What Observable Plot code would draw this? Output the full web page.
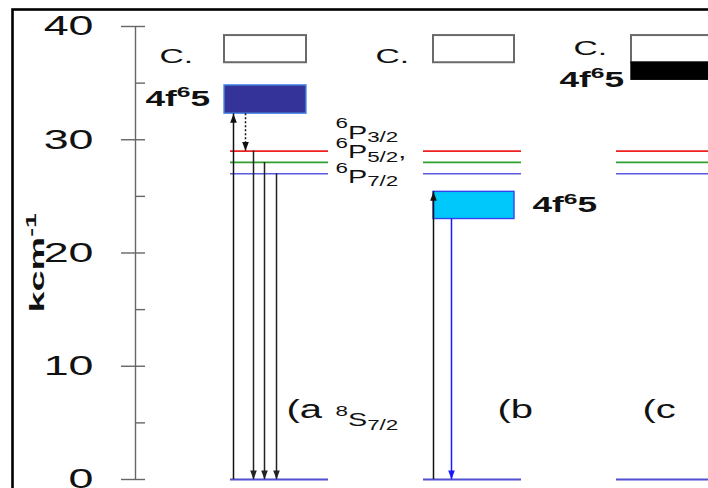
<!DOCTYPE html>
<html><head><meta charset="utf-8">
<script src="https://cdn.jsdelivr.net/npm/d3@7"></script>
<script src="https://cdn.jsdelivr.net/npm/@observablehq/plot@0.6"></script>
<style>html,body{margin:0;padding:0;overflow:hidden;background:#fff;width:708px;height:488px}</style>
</head><body><div id="chart"></div>
<script>
// ---------------- data (energies in kcm-1) ----------------
const yMajorTicks = [0, 10, 20, 30, 40];
const yMinorTicks = [5, 15, 25, 35];
const yTickLabels = ["0", "10", "20", "30", "40"];
const yTitle = "kcm^-1^";
const panelLabels = ["(a", "(b", "(c"];
const levelLabels = ["^6^P_3/2_", "^6^P_5/2_,", "^6^P_7/2_"];
const levelEnergies = [29.0, 28.0, 27.0];
const groundLabel = "^8^S_7/2_";
const groundEnergy = 0;
const cbLabel = "C.";
const cbBottom = [36.8, 36.8, 36.8];
const cbTop = [39.2, 39.2, 39.2];
const f5dLabel = "4f^6^5";
const f5dBottom = [32.3, 23.0, 35.3];
const f5dTop = [34.8, 25.4, 36.8];

// ---------------- layout (horizontal positions, label anchors) ----------------
const axisX = 135, tickLabelX = 93;
const boxX1 = [224, 433, 631], boxX2 = [306, 514, 716];
const lineX1 = [230, 423, 616], lineX2 = [328, 521, 716];
const cbLabelX = [159, 375, 573], cbLabelE = [36.82, 36.82, 37.44];
const f5dLabelX = [145, 532, 559], f5dLabelE = [33.0, 23.6, 34.7];
const levelLabelX = 335, levelLabelE = [30.1, 28.35, 26.15];
const groundLabelX = 335, groundLabelE = 4.68;
const panelLabelX = [286, 497, 642], panelLabelE = 5.47;
const yTitleX = 43, yTitleE = 14.75;

// transitions
const transitions = [
  {x: 233, from: groundEnergy, to: f5dBottom[0], kind: "abs"},
  {x: 245, from: f5dBottom[0], to: levelEnergies[0], kind: "relax"},
  {x: 253, from: levelEnergies[0], to: groundEnergy, kind: "em"},
  {x: 264, from: levelEnergies[1], to: groundEnergy, kind: "em"},
  {x: 276, from: levelEnergies[2], to: groundEnergy, kind: "em"},
  {x: 433, from: groundEnergy, to: f5dTop[1], kind: "abs"},
  {x: 451, from: f5dBottom[1], to: groundEnergy, kind: "emb"}
];

// ---------------- styles ----------------
const levelColors = ["#ee2020", "#2fa02f", "#5a5ae0"];
const groundColor = "#5050d0";
const f5dFill = ["#333399", "#00c8fa", "#000000"];
const f5dStroke = ["#4a8ae6", "#3344ee", "#000000"];
const kindStroke = {abs: "#111", relax: "#111", em: "#222", emb: "#1a1aff"};
const kindDash = {relax: "2,2"};

const headDown = {draw(ctx) { ctx.moveTo(0, 0); ctx.lineTo(-3.3, -9); ctx.lineTo(3.3, -9); ctx.closePath(); }};
const headUp = {draw(ctx) { ctx.moveTo(0, 0); ctx.lineTo(-3.3, 9); ctx.lineTo(3.3, 9); ctx.closePath(); }};

const panels = d3.range(3);
const levelRows = panels.flatMap(p => levelEnergies.map((e, i) => ({p, i, e})));

const marks = [
  Plot.frame({stroke: "#000", strokeWidth: 2.6, insetLeft: 12, insetTop: -17, insetRight: -30, insetBottom: -30}),
  Plot.ruleX([axisX], {y1: 0, y2: 40, stroke: "#666", strokeWidth: 1.4}),
  Plot.ruleY(yMajorTicks, {x1: axisX - 14, x2: axisX + 10, stroke: "#666", strokeWidth: 1.4}),
  Plot.ruleY(yMinorTicks, {x1: axisX, x2: axisX + 10, stroke: "#666", strokeWidth: 1.4}),
  ...levelEnergies.map((e, i) => Plot.ruleY(levelRows.filter(r => r.i === i),
      {y: "e", x1: r => lineX1[r.p], x2: r => lineX2[r.p], stroke: levelColors[i], strokeWidth: 1.6})),
  Plot.ruleY(panels, {y: () => groundEnergy, x1: p => lineX1[p], x2: p => lineX2[p], stroke: groundColor, strokeWidth: 1.8}),
  Plot.rect(panels, {x1: p => boxX1[p], x2: p => boxX2[p], y1: p => cbBottom[p], y2: p => cbTop[p], fill: "white", stroke: "#6a6a6a", strokeWidth: 2}),
  ...panels.map(p => Plot.rect([p], {x1: boxX1[p], x2: boxX2[p], y1: f5dBottom[p], y2: f5dTop[p], fill: f5dFill[p], stroke: f5dStroke[p], strokeWidth: 1.4})),
  ...Object.keys(kindStroke).map(k => Plot.ruleX(transitions.filter(t => t.kind === k),
      {x: "x", y1: "from", y2: "to", stroke: kindStroke[k], strokeWidth: 1.5, strokeDasharray: kindDash[k]})),
  ...Object.keys(kindStroke).map(k => Plot.dot(transitions.filter(t => t.kind === k && t.to < t.from),
      {x: "x", y: "to", symbol: headDown, fill: kindStroke[k], stroke: "none", r: 4})),
  ...Object.keys(kindStroke).map(k => Plot.dot(transitions.filter(t => t.kind === k && t.to > t.from),
      {x: "x", y: "to", symbol: headUp, fill: kindStroke[k], stroke: "none", r: 4})),
  // texts
  Plot.text(yMajorTicks, {x: tickLabelX, y: d => d, text: (d, i) => yTickLabels[i], textAnchor: "end", fontSize: 28, fill: "#111"}),
  Plot.text(panels, {x: p => cbLabelX[p], y: p => cbLabelE[p], text: () => cbLabel, textAnchor: "start", lineAnchor: "bottom", fontSize: 21, fill: "#111"}),
  Plot.text(panels, {x: p => f5dLabelX[p], y: p => f5dLabelE[p], text: () => f5dLabel, textAnchor: "start", lineAnchor: "bottom", fontSize: 22, fontWeight: "bold", fill: "#111"}),
  Plot.text(levelLabels, {x: levelLabelX, y: (d, i) => levelLabelE[i], text: d => d, textAnchor: "start", lineAnchor: "bottom", fontSize: 18, fill: "#111"}),
  Plot.text([groundLabel], {x: groundLabelX, y: groundLabelE, text: d => d, textAnchor: "start", lineAnchor: "bottom", fontSize: 18, fill: "#111"}),
  Plot.text(panelLabels, {x: (d, i) => panelLabelX[i], y: panelLabelE, text: d => d, textAnchor: "start", lineAnchor: "bottom", fontSize: 25, fill: "#111"}),
  Plot.text([yTitle], {x: yTitleX, y: yTitleE, text: d => d, rotate: -90, textAnchor: "start", lineAnchor: "bottom", fontSize: 21, fontWeight: "bold", fill: "#111"})
];

const svg = Plot.plot({
  width: 708, height: 488,
  marginLeft: 0, marginRight: 0, marginTop: 26, marginBottom: 9,
  x: {domain: [0, 708], axis: null},
  y: {domain: [0, 40], axis: null},
  style: {fontFamily: "'Liberation Sans', Arial, sans-serif", background: "white", overflow: "hidden"},
  marks
});
document.getElementById("chart").appendChild(svg);

// rich text (super/subscripts) and the horizontal stretch of the original lettering
const NS = "http://www.w3.org/2000/svg";
svg.querySelectorAll("text").forEach(t => {
  const tr = t.getAttribute("transform") || "";
  const rotated = tr.includes("rotate");
  t.setAttribute("transform", tr + (rotated ? " scale(1.8,1)" : " scale(1.6,1)"));
  const s = t.textContent;
  if (!/[\^_]/.test(s)) return;
  const fs = parseFloat(getComputedStyle(t).fontSize) || 18;
  const term = s.startsWith("^");
  const ratio = term ? 0.78 : 0.7;
  const up = term ? 0.6 : 0.38, down = 0.17;
  t.textContent = "";
  let off = 0;
  for (const m of s.matchAll(/\^([^^]*)\^|_([^_]*)_|([^^_]+)/g)) {
    const ts = document.createElementNS(NS, "tspan");
    let target = 0, size = null;
    if (m[1] !== undefined) { target = -up * fs; size = ratio * fs; ts.textContent = m[1]; }
    else if (m[2] !== undefined) { target = down * fs; size = ratio * fs; ts.textContent = m[2]; }
    else ts.textContent = m[3];
    ts.setAttribute("dy", (target - off).toFixed(2));
    off = target;
    if (size) ts.setAttribute("font-size", size.toFixed(1));
    t.appendChild(ts);
  }
});
</script></body></html>
